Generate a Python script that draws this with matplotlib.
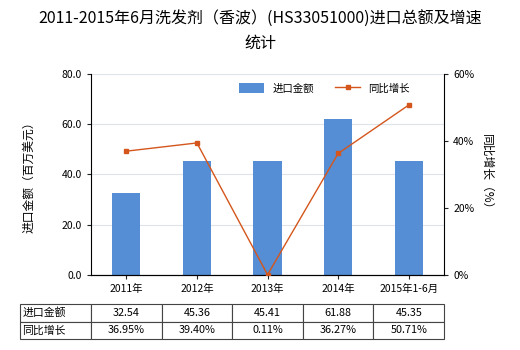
import matplotlib
import matplotlib.pyplot as plt
import numpy as np

matplotlib.use("Agg")
plt.rcParams["font.family"] = ["Noto Sans CJK SC", "DejaVu Sans"]

categories = ["2011年", "2012年", "2013年", "2014年", "2015年1-6月"]
import_value = [32.54, 45.36, 45.41, 61.88, 45.35]
growth_pct = [36.95, 39.40, 0.11, 36.27, 50.71]
value_labels = ["32.54", "45.36", "45.41", "61.88", "45.35"]
growth_labels = ["36.95%", "39.40%", "0.11%", "36.27%", "50.71%"]
row_labels = ["进口金额", "同比增长"]

bar_color = "#558ED5"
line_color = "#D4561C"

fig = plt.figure(figsize=(5.2, 3.5), dpi=100)
ax = fig.add_axes([0.175, 0.214, 0.679, 0.575])
x = np.arange(len(categories))

ax.bar(x, import_value, width=0.4, color=bar_color, label="进口金额", zorder=2)
ax.set_xlim(-0.5, len(categories) - 0.5)
ax.set_ylim(0, 80)
ax.set_yticks([0, 20, 40, 60, 80])
ax.set_yticklabels(["0.0", "20.0", "40.0", "60.0", "80.0"])
ax.set_xticks(x)
ax.set_xticklabels(categories)
ax.grid(axis="y", color="#DDE3E8", linewidth=0.8, zorder=0)
ax.tick_params(labelsize=7.5, length=3, color="#222222")
ax.set_ylabel("进口金额（百万美元）", fontsize=8.5, labelpad=19)
for s in ["top", "right"]:
    ax.spines[s].set_visible(False)

ax2 = ax.twinx()
ax2.plot(x, growth_pct, color=line_color, linewidth=1, marker="s", markersize=3.5,
         label="同比增长", zorder=3)
ax2.set_ylim(0, 60)
ax2.set_yticks([0, 20, 40, 60])
ax2.set_yticklabels(["0%", "20%", "40%", "60%"])
ax2.tick_params(labelsize=7.5, length=3, color="#222222")
ax2.set_ylabel("同比增长（%）", fontsize=8.5, rotation=270, labelpad=14)
for s in ["top", "left"]:
    ax2.spines[s].set_visible(False)

h1, l1 = ax.get_legend_handles_labels()
h2, l2 = ax2.get_legend_handles_labels()
ax.legend(h1 + h2, l1 + l2, loc="upper right", bbox_to_anchor=(0.93, 1.0), ncol=2,
          frameon=False, fontsize=7.5, handlelength=2.4, handleheight=1.0,
          columnspacing=2.0)

fig.suptitle("2011-2015年6月洗发剂（香波）(HS33051000)进口总额及增速\n统计",
             fontsize=11.5, y=0.97, linespacing=1.55)

cells = [[row_labels[0]] + value_labels, [row_labels[1]] + growth_labels]
label_w = 0.201
table = ax.table(
    cellText=cells,
    cellLoc="center",
    colWidths=[label_w] + [0.2] * len(categories),
    bbox=[-label_w, -0.318, 1.0 + label_w, 0.174],
)
table.auto_set_font_size(False)
table.set_fontsize(7.8)
for (r, c), cell in table.get_celld().items():
    cell.set_edgecolor("#444444")
    cell.set_linewidth(0.8)
    if c == 0:
        cell.set_text_props(ha="left")
        cell.PAD = 0.03

fig.savefig("out.png", dpi=100)
